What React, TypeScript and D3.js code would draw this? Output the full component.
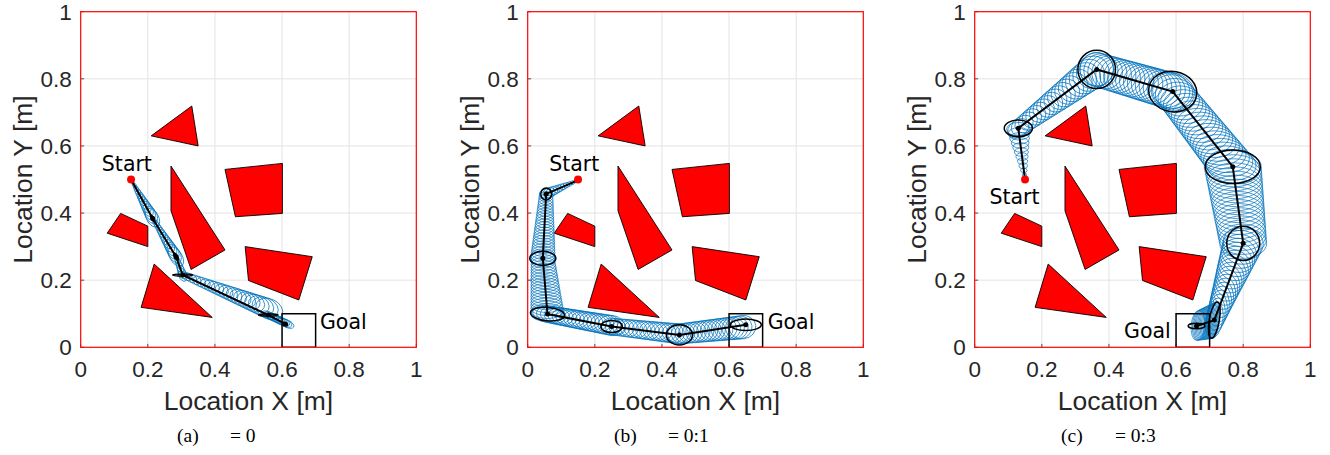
import React, { useEffect, useRef } from 'react'
import * as d3 from 'd3'

// axis ticks
const tickValues = [0, 0.2, 0.4, 0.6, 0.8, 1]
const tickLabels = ['0', '0.2', '0.4', '0.6', '0.8', '1']

// map (same in every panel)
const obstacles = [
  [[0.21, 0.63], [0.331, 0.719], [0.35, 0.6]],
  [[0.269, 0.54], [0.43, 0.29], [0.329, 0.232], [0.269, 0.407]],
  [[0.43, 0.53], [0.601, 0.548], [0.601, 0.399], [0.461, 0.389]],
  [[0.079, 0.34], [0.119, 0.399], [0.2, 0.361], [0.2, 0.3]],
  [[0.49, 0.3], [0.69, 0.27], [0.65, 0.141], [0.5, 0.199]],
  [[0.219, 0.248], [0.392, 0.089], [0.18, 0.119]],
]
const startPoint = [0.15, 0.5]
const goalBox = [0.6, 0.7, 0, 0.1] // x0, x1, y0, y1

const captionIds = ['(a)', '(b)', '(c)']
const captionVals = ['= 0', '= 0:1', '= 0:3']

// waypoints of each plan
const wayA = [[0.15, 0.5], [0.2145, 0.384], [0.284, 0.27], [0.304, 0.2155], [0.559, 0.096], [0.609, 0.0695]]
const wayB = [[0.151, 0.498], [0.055, 0.457], [0.045, 0.265], [0.059, 0.099], [0.25, 0.062], [0.452, 0.037], [0.65, 0.067]]
const wayC = [[0.15, 0.5], [0.13, 0.6525], [0.3635, 0.828], [0.59, 0.762], [0.769, 0.538], [0.8, 0.31], [0.714, 0.081], [0.661, 0.0635]]

// black covariance ellipses at the waypoints: rx, ry, angle (deg)
const blackA = [[0.012, 0.003, -60], [0.012, 0.004, -60], [0.03, 0.003, 0], [0.029, 0.003, 0], [0.008, 0.004, -20]]
const blackB = [[0.016, 0.018, 0], [0.039, 0.021, 0], [0.051, 0.02, -5], [0.032, 0.018, 0], [0.039, 0.03, 0], [0.046, 0.017, 0]]
const blackC = [[0.042, 0.025, 0], [0.056, 0.057, 0], [0.072, 0.06, -10], [0.082, 0.05, 0], [0.049, 0.051, 0], [0.015, 0.055, -10], [0.025, 0.008, 0]]

// blue propagated ellipses per leg: x0, y0, rx0, ry0, x1, y1, rx1, ry1, angle, count
const blueA = [
  [0.15, 0.5, 0.004, 0.003, 0.214, 0.386, 0.03, 0.018, -61, 14],
  [0.214, 0.386, 0.008, 0.005, 0.284, 0.27, 0.032, 0.018, -59, 14],
  [0.284, 0.27, 0.01, 0.006, 0.304, 0.216, 0.02, 0.012, -70, 6],
  [0.304, 0.216, 0.015, 0.01, 0.562, 0.114, 0.042, 0.03, -25, 22],
  [0.559, 0.096, 0.02, 0.01, 0.615, 0.07, 0.022, 0.011, -25, 10],
]
const blueB = [
  [0.151, 0.498, 0.004, 0.003, 0.055, 0.457, 0.02, 0.016, 23, 12],
  [0.055, 0.457, 0.02, 0.015, 0.045, 0.265, 0.037, 0.02, 0, 24],
  [0.045, 0.265, 0.035, 0.02, 0.059, 0.099, 0.05, 0.022, 0, 20],
  [0.059, 0.099, 0.045, 0.025, 0.25, 0.065, 0.04, 0.03, -10, 18],
  [0.25, 0.062, 0.03, 0.025, 0.452, 0.04, 0.04, 0.03, -7, 18],
  [0.452, 0.04, 0.035, 0.03, 0.64, 0.06, 0.04, 0.035, 8, 18],
]
const blueC = [
  [0.15, 0.5, 0.004, 0.004, 0.13, 0.65, 0.035, 0.02, 0, 12],
  [0.13, 0.6525, 0.035, 0.025, 0.3635, 0.828, 0.05, 0.05, 37, 21],
  [0.3635, 0.828, 0.05, 0.05, 0.59, 0.762, 0.065, 0.055, -16, 19],
  [0.59, 0.762, 0.06, 0.05, 0.769, 0.538, 0.08, 0.05, -10, 21],
  [0.769, 0.538, 0.085, 0.048, 0.8, 0.31, 0.07, 0.045, 0, 20],
  [0.8, 0.31, 0.06, 0.05, 0.714, 0.081, 0.025, 0.055, -10, 20],
  [0.714, 0.081, 0.015, 0.055, 0.665, 0.065, 0.02, 0.045, -5, 15],
]

const labelStart = [[0.063, 0.526], [0.064, 0.526], [0.044, 0.426]]
const labelGoal = [[0.713, 0.054], [0.715, 0.054], [0.445, 0.027]]

const panels = [
  { way: wayA, black: blackA, blue: blueA },
  { way: wayB, black: blackB, blue: blueB },
  { way: wayC, black: blackC, blue: blueC },
]

const W = 1330
const H = 455
const SIZE = 335.6
const TOP = 11.7
const LEFTS = [80.7, 527.7, 974.7]
const BLUE = '#0072BD'
const TXT = '#262626'

function drawPanel(svg, idx) {
  const left = LEFTS[idx]
  const p = panels[idx]
  const x = d3.scaleLinear().domain([0, 1]).range([left, left + SIZE])
  const y = d3.scaleLinear().domain([0, 1]).range([TOP + SIZE, TOP])
  const k = SIZE // px per data unit

  const g = svg.append('g')
  g.append('clipPath').attr('id', 'clip' + idx)
    .append('rect').attr('x', left).attr('y', TOP).attr('width', SIZE).attr('height', SIZE)

  // grid
  g.append('g').selectAll('line.gx').data(tickValues.slice(1, -1)).enter().append('line')
    .attr('x1', d => x(d)).attr('x2', d => x(d)).attr('y1', TOP).attr('y2', TOP + SIZE)
    .attr('stroke', '#e3e3e3').attr('stroke-width', 1)
  g.append('g').selectAll('line.gy').data(tickValues.slice(1, -1)).enter().append('line')
    .attr('y1', d => y(d)).attr('y2', d => y(d)).attr('x1', left).attr('x2', left + SIZE)
    .attr('stroke', '#e3e3e3').attr('stroke-width', 1)

  const plot = g.append('g').attr('clip-path', `url(#clip${idx})`)

  // obstacles
  plot.selectAll('polygon').data(obstacles).enter().append('polygon')
    .attr('points', d => d.map(v => `${x(v[0])},${y(v[1])}`).join(' '))
    .attr('fill', '#ff0000').attr('stroke', '#000').attr('stroke-width', 0.9)

  // blue ellipses swept along each leg
  const ells = []
  p.blue.forEach(s => {
    const [x0, y0, a0, b0, x1, y1, a1, b1, ang, n] = s
    for (let i = 0; i < n; i++) {
      const t = n === 1 ? 0 : i / (n - 1)
      ells.push({
        cx: d3.interpolateNumber(x0, x1)(t),
        cy: d3.interpolateNumber(y0, y1)(t),
        rx: d3.interpolateNumber(a0, a1)(t),
        ry: d3.interpolateNumber(b0, b1)(t),
        ang,
      })
    }
  })
  plot.append('g').selectAll('ellipse').data(ells).enter().append('ellipse')
    .attr('transform', d => `translate(${x(d.cx)},${y(d.cy)}) rotate(${-d.ang})`)
    .attr('rx', d => d.rx * k).attr('ry', d => d.ry * k)
    .attr('fill', 'none').attr('stroke', BLUE).attr('stroke-width', 0.7)

  // planned path
  const line = d3.line().x(d => x(d[0])).y(d => y(d[1]))
  plot.append('path').attr('d', line(p.way))
    .attr('fill', 'none').attr('stroke', '#000').attr('stroke-width', 2)

  // black ellipses and waypoints
  const wps = p.way.slice(1)
  plot.append('g').selectAll('ellipse').data(wps).enter().append('ellipse')
    .attr('transform', (d, i) => `translate(${x(d[0])},${y(d[1])}) rotate(${-p.black[i][2]})`)
    .attr('rx', (d, i) => p.black[i][0] * k).attr('ry', (d, i) => p.black[i][1] * k)
    .attr('fill', 'none').attr('stroke', '#000').attr('stroke-width', 1.5)
  plot.append('g').selectAll('circle').data(wps).enter().append('circle')
    .attr('cx', d => x(d[0])).attr('cy', d => y(d[1])).attr('r', 2.5).attr('fill', '#000')

  // start & goal
  plot.append('circle').attr('cx', x(startPoint[0])).attr('cy', y(startPoint[1]))
    .attr('r', 4).attr('fill', '#ff0000')
  plot.append('rect').attr('x', x(goalBox[0])).attr('y', y(goalBox[3]))
    .attr('width', x(goalBox[1]) - x(goalBox[0])).attr('height', y(goalBox[2]) - y(goalBox[3]))
    .attr('fill', 'none').attr('stroke', '#000').attr('stroke-width', 1.5)

  g.append('text').text('Start')
    .attr('x', x(labelStart[idx][0])).attr('y', y(labelStart[idx][1]))
    .attr('font-family', 'DejaVu Sans').attr('font-size', 20.5).attr('fill', '#000')
  g.append('text').text('Goal')
    .attr('x', x(labelGoal[idx][0])).attr('y', y(labelGoal[idx][1]))
    .attr('font-family', 'DejaVu Sans').attr('font-size', 20.5).attr('fill', '#000')

  // ticks
  g.append('g').selectAll('line').data(tickValues).enter().append('line')
    .attr('x1', d => x(d)).attr('x2', d => x(d)).attr('y1', TOP + SIZE).attr('y2', TOP + SIZE - 3.4)
    .attr('stroke', TXT).attr('stroke-width', 0.8)
  g.append('g').selectAll('line').data(tickValues).enter().append('line')
    .attr('y1', d => y(d)).attr('y2', d => y(d)).attr('x1', left).attr('x2', left + 3.4)
    .attr('stroke', TXT).attr('stroke-width', 0.8)

  // box
  g.append('rect').attr('x', left).attr('y', TOP).attr('width', SIZE).attr('height', SIZE)
    .attr('fill', 'none').attr('stroke', '#ff0000').attr('stroke-width', 1.2)

  // tick labels
  g.append('g').selectAll('text').data(tickValues).enter().append('text')
    .text((d, i) => tickLabels[i])
    .attr('x', d => x(d)).attr('y', TOP + SIZE + 30)
    .attr('text-anchor', 'middle').attr('font-family', 'Liberation Sans').attr('font-size', 22.5).attr('fill', TXT)
  g.append('g').selectAll('text').data(tickValues).enter().append('text')
    .text((d, i) => tickLabels[i])
    .attr('x', left - 9).attr('y', d => y(d) + 8)
    .attr('text-anchor', 'end').attr('font-family', 'Liberation Sans').attr('font-size', 22.5).attr('fill', TXT)

  // axis labels
  g.append('text').text('Location X [m]')
    .attr('x', left + SIZE / 2).attr('y', 410)
    .attr('text-anchor', 'middle').attr('font-family', 'Liberation Sans').attr('font-size', 26.5).attr('fill', TXT)
  g.append('text').text('Location Y [m]')
    .attr('transform', `translate(${left - 49},${TOP + SIZE / 2}) rotate(-90)`)
    .attr('text-anchor', 'middle').attr('font-family', 'Liberation Sans').attr('font-size', 26.5).attr('fill', TXT)

  // caption
  const off = idx === 0 ? [96.3, 149.3] : [86.3, 140.3]
  g.append('text').text(captionIds[idx])
    .attr('x', left + off[0]).attr('y', 442)
    .attr('font-family', 'Liberation Serif').attr('font-size', 19.5).attr('fill', '#000')
  g.append('text').text(captionVals[idx])
    .attr('x', left + off[1]).attr('y', 442)
    .attr('font-family', 'Liberation Serif').attr('font-size', 19.5).attr('fill', '#000')
}

export default function App() {
  const ref = useRef(null)

  useEffect(() => {
    const svg = d3.select(ref.current)
    svg.selectAll('*').remove()
    for (let i = 0; i < 3; i++) drawPanel(svg, i)
  }, [])

  return (
    <svg
      ref={ref}
      width={W}
      height={H}
      style={{ position: 'absolute', left: 0, top: 0, background: '#fff' }}
    />
  )
}
